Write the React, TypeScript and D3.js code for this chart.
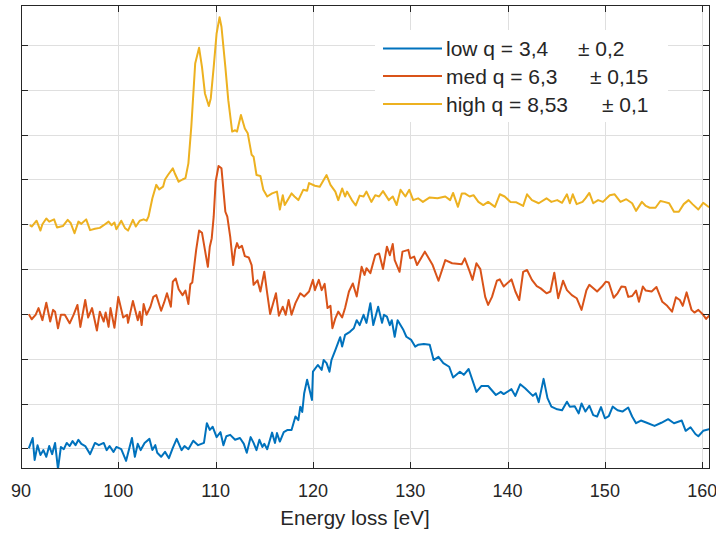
import { useEffect, useRef } from 'react';
import * as d3 from 'd3';

// x ticks / y grid steps (y axis has no labels)
const xTicks = [90, 100, 110, 120, 130, 140, 150, 160];
const yTicks = [0, 1, 2, 3, 4, 5, 6, 7, 8, 9];

const seriesNames = ['low q = 3,4', 'med q = 6,3', 'high q = 8,53'];
const seriesErrors = ['\u00b1 0,2', '\u00b1 0,15', '\u00b1 0,1'];
const seriesColors = ['#0072BD', '#D95319', '#EDB120'];

// low q (blue) - energy [eV] / intensity (offset, arb. units)
const lowE = [90.8, 91.2, 91.4, 91.7, 92.0, 92.3, 92.6, 92.9, 93.2, 93.5, 93.8, 94.1, 94.4, 94.7, 95.0, 95.3, 95.6, 95.9, 96.2, 96.6,
  97.1, 97.6, 98.0, 98.5, 98.8, 99.1, 99.5, 99.8, 100.3, 100.8, 101.4, 101.7, 102.0, 102.3, 102.7, 103.2, 103.5, 103.8, 104.0, 104.4,
  104.8, 105.2, 105.6, 106.0, 106.5, 106.8, 107.2, 107.7, 108.2, 108.8, 109.1, 109.4, 109.7, 110.1, 110.5, 110.8, 111.1, 111.5, 112.0, 112.5,
  112.9, 113.2, 113.6, 113.9, 114.2, 114.5, 114.8, 115.0, 115.3, 115.8, 116.1, 116.3, 116.6, 117.0, 117.4, 117.8, 118.2, 118.5, 118.7, 118.9,
  119.1, 119.4, 119.6, 119.9, 120.0, 120.5, 120.9, 121.1, 121.4, 121.7, 121.9, 122.3, 122.8, 123.0, 123.3, 123.8, 124.2, 124.5, 124.8, 125.2,
  125.5, 125.9, 126.2, 126.7, 127.1, 127.3, 127.6, 127.9, 128.1, 128.4, 128.7, 129.3, 129.6, 130.1, 130.5, 130.8, 131.4, 132.0, 132.4, 132.9,
  133.4, 134.0, 134.4, 135.1, 135.5, 136.0, 136.8, 137.3, 138.0, 138.8, 139.3, 139.6, 140.4, 140.8, 141.3, 141.8, 142.6, 142.9, 143.2, 143.7,
  144.1, 144.5, 145.1, 145.6, 146.1, 146.4, 146.9, 147.3, 147.6, 148.0, 148.4, 148.8, 149.2, 149.6, 150.0, 150.4, 150.8, 151.3, 151.8, 152.4,
  152.8, 153.2, 153.7, 154.3, 155.1, 155.8, 156.5, 157.1, 157.9, 158.3, 158.8, 159.3, 159.6, 160.1, 160.8];
const lowI = [0.00, 0.23, -0.26, 0.07, -0.15, -0.04, -0.19, 0.05, -0.13, 0.12, -0.46, 0.03, -0.02, 0.12, 0.05, 0.16, 0.07, 0.19, 0.10, 0.05,
  -0.13, 0.12, 0.07, 0.12, -0.04, 0.05, -0.08, 0.03, -0.02, -0.28, 0.23, -0.19, 0.10, -0.04, 0.12, 0.21, -0.04, 0.07, -0.10, -0.19,
  -0.08, -0.22, 0.01, 0.21, -0.04, 0.05, -0.02, 0.17, 0.07, 0.12, 0.56, 0.41, 0.48, 0.25, 0.36, 0.07, 0.27, 0.30, 0.19, 0.23,
  0.10, -0.10, 0.25, 0.12, -0.04, 0.19, 0.03, 0.10, -0.02, 0.35, 0.12, 0.34, 0.15, 0.36, 0.41, 0.41, 0.71, 0.63, 0.93, 0.81,
  1.23, 1.53, 1.35, 1.08, 1.71, 1.86, 1.75, 1.97, 1.90, 1.71, 1.97, 2.19, 2.48, 2.27, 2.53, 2.60, 2.68, 2.86, 2.75, 2.98,
  2.80, 3.24, 2.75, 3.16, 2.80, 2.98, 2.94, 2.75, 2.86, 2.49, 2.86, 2.64, 2.49, 2.42, 2.27, 2.31, 2.33, 2.31, 1.97, 2.04,
  1.90, 1.82, 1.58, 1.71, 1.64, 1.77, 1.26, 1.39, 1.39, 1.19, 1.26, 1.21, 1.32, 1.17, 1.43, 1.34, 1.17, 1.23, 1.03, 1.55,
  1.12, 0.93, 0.87, 0.85, 1.04, 0.93, 0.94, 0.78, 1.00, 0.82, 0.95, 0.74, 0.71, 0.92, 0.67, 0.72, 0.93, 0.85, 0.82, 0.91,
  0.71, 0.56, 0.62, 0.57, 0.50, 0.57, 0.65, 0.56, 0.62, 0.39, 0.47, 0.32, 0.27, 0.39, 0.43];

// med q (orange)
const medE = [90.8, 91.1, 91.5, 91.8, 92.2, 92.6, 93.0, 93.3, 93.5, 93.8, 94.1, 94.5, 95.0, 95.4, 95.8, 96.1, 96.6, 96.9, 97.3, 97.8,
  98.1, 98.5, 98.7, 99.0, 99.2, 99.6, 100.0, 100.5, 100.9, 101.0, 101.5, 102.0, 102.2, 102.4, 102.6, 102.9, 103.3, 103.6, 103.9, 104.4,
  104.7, 105.0, 105.4, 105.6, 105.9, 106.2, 106.6, 106.9, 107.2, 107.4, 107.6, 108.0, 108.3, 108.6, 108.9, 109.2, 109.4, 109.6, 109.8, 110.0,
  110.3, 110.6, 111.0, 111.2, 111.5, 111.8, 112.0, 112.2, 112.4, 112.7, 113.0, 113.4, 113.7, 113.9, 114.3, 114.6, 115.0, 115.3, 115.6, 116.2,
  116.5, 116.9, 117.2, 117.5, 117.8, 118.2, 118.7, 119.1, 119.6, 120.0, 120.2, 120.6, 120.9, 121.2, 121.5, 121.8, 122.0, 122.3, 122.6, 123.0,
  123.3, 123.7, 124.1, 124.5, 125.0, 125.3, 125.5, 125.9, 126.4, 126.8, 127.2, 127.6, 127.9, 128.2, 128.4, 128.9, 129.2, 129.8, 130.0, 130.4,
  130.7, 131.5, 132.3, 132.9, 133.6, 134.3, 135.3, 135.6, 136.1, 136.4, 136.8, 137.2, 137.7, 138.0, 138.4, 138.9, 139.2, 139.6, 140.4, 140.8,
  141.2, 141.6, 142.0, 142.5, 143.0, 143.4, 144.0, 144.4, 144.8, 145.2, 145.7, 146.1, 146.6, 147.1, 147.6, 148.1, 148.4, 149.2, 149.7, 150.1,
  150.4, 150.9, 151.3, 151.7, 152.1, 152.4, 152.8, 153.2, 153.5, 153.9, 154.2, 154.8, 155.3, 155.9, 156.4, 156.9, 157.3, 157.7, 158.0, 158.4,
  158.9, 159.2, 159.6, 160.1, 160.4, 160.8];
const medI = [2.99, 2.88, 2.98, 3.13, 2.86, 3.25, 2.83, 3.09, 3.05, 2.68, 2.98, 2.98, 2.79, 2.98, 3.20, 2.71, 3.31, 2.92, 3.13, 2.63,
  3.05, 2.83, 3.03, 2.71, 3.13, 2.69, 3.38, 2.92, 2.98, 2.80, 3.29, 2.86, 3.05, 2.75, 3.22, 2.98, 3.16, 3.38, 3.42, 3.07,
  3.25, 3.46, 3.16, 3.72, 3.79, 3.55, 3.42, 3.52, 3.22, 3.66, 3.70, 4.43, 4.86, 4.81, 4.43, 4.05, 4.50, 4.69, 5.17, 5.95,
  6.30, 6.25, 5.28, 5.17, 4.72, 4.09, 4.43, 4.58, 4.47, 4.52, 4.29, 4.26, 4.09, 3.65, 3.75, 3.50, 3.94, 3.46, 3.00, 3.46,
  2.96, 3.16, 2.98, 3.31, 2.98, 3.24, 3.46, 3.39, 3.50, 3.76, 3.53, 3.76, 3.53, 3.67, 3.13, 3.18, 2.68, 2.90, 3.05, 2.92,
  3.13, 3.50, 3.68, 3.39, 4.05, 3.87, 4.02, 3.91, 4.31, 4.35, 4.00, 4.50, 4.31, 4.56, 4.20, 3.94, 4.39, 4.43, 4.24, 4.28,
  4.09, 4.39, 4.09, 3.74, 4.20, 4.13, 4.11, 4.24, 3.95, 3.76, 4.13, 4.00, 3.38, 3.20, 3.38, 3.74, 3.77, 3.61, 3.77, 3.50,
  3.31, 3.94, 3.98, 3.76, 3.62, 3.57, 3.46, 3.50, 3.92, 3.35, 3.74, 3.53, 3.42, 3.35, 3.09, 3.53, 3.65, 3.50, 3.61, 3.72,
  3.70, 3.36, 3.46, 3.61, 3.60, 3.38, 3.40, 3.52, 3.27, 3.61, 3.52, 3.50, 3.60, 3.27, 3.18, 3.05, 3.37, 3.31, 3.18, 3.48,
  3.09, 3.03, 3.09, 2.98, 2.89, 2.98];

// high q (yellow)
const highE = [90.9, 91.1, 91.6, 92.0, 92.2, 92.6, 92.9, 93.4, 93.7, 94.3, 94.8, 95.1, 95.5, 95.9, 96.2, 96.7, 97.1, 97.6, 98.1, 98.5,
  99.0, 99.3, 99.6, 99.8, 100.3, 100.7, 101.0, 101.5, 101.8, 102.2, 102.6, 102.9, 103.1, 103.5, 103.9, 104.2, 104.6, 104.8, 105.1, 105.6,
  105.8, 106.2, 106.6, 106.9, 107.2, 107.5, 107.9, 108.3, 108.6, 108.9, 109.3, 109.5, 109.8, 110.1, 110.4, 110.6, 111.0, 111.3, 111.7, 112.0,
  112.2, 112.6, 113.0, 113.3, 113.7, 113.9, 114.2, 114.6, 114.9, 115.3, 115.8, 116.3, 116.6, 116.9, 117.1, 117.8, 118.1, 118.5, 119.0, 119.4,
  119.6, 120.2, 120.7, 121.1, 121.4, 121.8, 122.3, 122.6, 123.0, 123.3, 123.5, 124.0, 124.4, 124.8, 125.2, 125.5, 126.0, 126.4, 126.8, 127.2,
  127.8, 128.2, 128.6, 129.0, 129.5, 129.9, 130.3, 130.8, 131.3, 132.0, 132.8, 133.6, 134.1, 134.4, 134.9, 135.3, 135.6, 136.1, 136.5, 137.0,
  137.5, 138.0, 138.7, 139.2, 139.7, 140.3, 140.9, 141.6, 142.0, 142.5, 143.2, 144.0, 144.5, 145.1, 145.6, 146.1, 146.4, 146.7, 147.1, 147.7,
  148.0, 148.4, 148.8, 149.3, 149.8, 150.5, 151.0, 151.6, 152.2, 152.8, 153.2, 153.8, 154.2, 154.6, 155.2, 155.7, 156.1, 156.6, 157.1, 157.6,
  158.1, 158.6, 159.0, 159.6, 160.1, 160.7];
const highI = [4.98, 4.95, 5.08, 4.86, 5.00, 5.13, 5.06, 5.11, 4.93, 4.96, 5.10, 5.03, 4.80, 5.06, 5.01, 5.11, 4.87, 4.90, 4.92, 4.98,
  5.06, 4.98, 5.04, 4.89, 5.08, 4.91, 4.86, 5.10, 4.95, 5.08, 5.11, 5.08, 5.17, 5.58, 5.88, 5.78, 5.84, 6.00, 6.10, 6.25,
  6.14, 5.95, 6.00, 6.03, 6.36, 7.18, 8.59, 8.94, 8.51, 7.92, 7.64, 7.81, 8.51, 9.26, 9.62, 9.41, 8.51, 7.77, 7.07, 7.10,
  7.07, 7.44, 7.14, 7.03, 6.55, 6.51, 6.10, 6.08, 5.77, 5.62, 5.69, 5.73, 5.33, 5.65, 5.43, 5.69, 5.62, 5.54, 5.77, 5.75,
  5.92, 5.86, 5.84, 5.99, 6.10, 5.88, 5.73, 5.54, 5.80, 5.62, 5.73, 5.54, 5.42, 5.64, 5.62, 5.73, 5.50, 5.65, 5.62, 5.74,
  5.54, 5.62, 5.43, 5.77, 5.62, 5.77, 5.54, 5.58, 5.50, 5.60, 5.58, 5.62, 5.54, 5.70, 5.39, 5.69, 5.69, 5.62, 5.65, 5.50,
  5.43, 5.50, 5.39, 5.67, 5.62, 5.50, 5.49, 5.41, 5.67, 5.54, 5.47, 5.58, 5.50, 5.54, 5.48, 5.67, 5.47, 5.67, 5.45, 5.50,
  5.58, 5.70, 5.47, 5.54, 5.50, 5.65, 5.67, 5.50, 5.56, 5.47, 5.30, 5.50, 5.41, 5.37, 5.37, 5.52, 5.50, 5.47, 5.28, 5.28,
  5.45, 5.54, 5.45, 5.33, 5.48, 5.38];

const FONT = '"Liberation Sans", Arial, Helvetica, sans-serif';
const INK = '#262626';

export default function App() {
  const ref = useRef<SVGSVGElement>(null);

  useEffect(() => {
    const width = 716;
    const height = 537;
    const m = { left: 21, right: 710, top: 5, bottom: 469 };

    const svg = d3.select(ref.current);
    svg.selectAll('*').remove();

    const x = d3.scaleLinear().domain([90, 160.8]).range([m.left, m.right]);
    const y = d3.scaleLinear().domain([-0.462, 9.895]).range([m.bottom, m.top]);

    svg.append('rect').attr('width', width).attr('height', height).attr('fill', '#fff');

    // grid
    const grid = svg.append('g').attr('stroke', '#dfdfdf').attr('stroke-width', 1);
    grid.selectAll('line.gx')
      .data(xTicks.filter(d => d > 90))
      .join('line')
      .attr('x1', d => Math.round(x(d)) + 0.5).attr('x2', d => Math.round(x(d)) + 0.5)
      .attr('y1', m.top).attr('y2', m.bottom);
    grid.selectAll('line.gy')
      .data(yTicks)
      .join('line')
      .attr('class', 'gy')
      .attr('x1', m.left).attr('x2', m.right)
      .attr('y1', d => Math.round(y(d)) + 0.5).attr('y2', d => Math.round(y(d)) + 0.5);

    // data lines
    svg.append('clipPath').attr('id', 'plotclip')
      .append('rect')
      .attr('x', m.left).attr('y', m.top)
      .attr('width', m.right - m.left).attr('height', m.bottom - m.top);

    const allSeries = [
      { e: lowE, v: lowI },
      { e: medE, v: medI },
      { e: highE, v: highI },
    ];
    const line = d3.line<[number, number]>().x(d => x(d[0])).y(d => y(d[1]));
    const lines = svg.append('g').attr('clip-path', 'url(#plotclip)');
    allSeries.forEach((s, i) => {
      const pts = s.e.map((e, k) => [e, s.v[k]] as [number, number]);
      lines.append('path')
        .attr('d', line(pts))
        .attr('fill', 'none')
        .attr('stroke', seriesColors[i])
        .attr('stroke-width', 2)
        .attr('stroke-linejoin', 'round');
    });

    // box + ticks
    const axes = svg.append('g').attr('stroke', INK).attr('stroke-width', 1).attr('fill', 'none');
    axes.append('rect')
      .attr('x', m.left + 0.5).attr('y', m.top + 0.5)
      .attr('width', m.right - m.left - 1).attr('height', m.bottom - m.top - 1);
    const tl = 7;
    xTicks.forEach(t => {
      const px = Math.round(x(t)) + 0.5;
      axes.append('line').attr('x1', px).attr('x2', px).attr('y1', m.bottom).attr('y2', m.bottom - tl);
      axes.append('line').attr('x1', px).attr('x2', px).attr('y1', m.top).attr('y2', m.top + tl);
    });
    yTicks.forEach(t => {
      const py = Math.round(y(t)) + 0.5;
      axes.append('line').attr('x1', m.left).attr('x2', m.left + tl).attr('y1', py).attr('y2', py);
      axes.append('line').attr('x1', m.right).attr('x2', m.right - tl).attr('y1', py).attr('y2', py);
    });

    // tick labels
    svg.append('g')
      .selectAll('text')
      .data(xTicks)
      .join('text')
      .attr('x', d => x(d))
      .attr('y', 497)
      .attr('text-anchor', 'middle')
      .attr('font-family', FONT)
      .attr('font-size', 18)
      .attr('fill', INK)
      .text(d => d);

    svg.append('text')
      .attr('x', 355)
      .attr('y', 525)
      .attr('text-anchor', 'middle')
      .attr('font-family', FONT)
      .attr('font-size', 20.5)
      .attr('fill', INK)
      .text('Energy loss [eV]');

    // legend
    const lg = svg.append('g');
    lg.append('rect')
      .attr('x', 375).attr('y', 30)
      .attr('width', 293).attr('height', 92)
      .attr('fill', '#fff');
    const rowY = [48.5, 76, 104];
    const pmX = [578, 590, 602];
    seriesNames.forEach((name, i) => {
      lg.append('line')
        .attr('x1', 383).attr('x2', 442)
        .attr('y1', rowY[i]).attr('y2', rowY[i])
        .attr('stroke', seriesColors[i]).attr('stroke-width', 2);
      const t = lg.append('text')
        .attr('y', rowY[i] + 7.8)
        .attr('font-family', FONT)
        .attr('font-size', 21)
        .attr('fill', INK);
      t.append('tspan').attr('x', 446).text(name);
      t.append('tspan').attr('x', pmX[i]).text(seriesErrors[i]);
    });
  }, []);

  return (
    <svg ref={ref} width={716} height={537}
      style={{ position: 'absolute', left: 0, top: 0, display: 'block' }} />
  );
}
